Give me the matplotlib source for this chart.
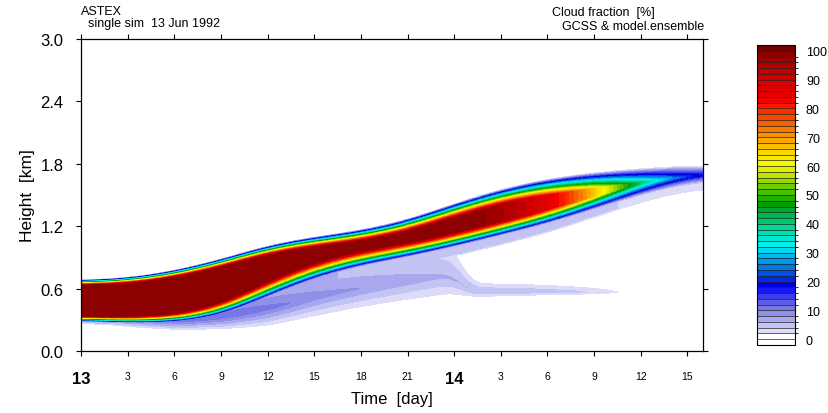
import numpy as np
import matplotlib
matplotlib.use("Agg")
import matplotlib.pyplot as plt
from matplotlib.colors import ListedColormap, BoundaryNorm

plt.rcParams['font.family'] = ['Liberation Sans', 'DejaVu Sans']

# time axis of the read-off profiles (hours since 13 Jun 00 UTC)
hours = [0, 3, 6, 9, 12, 15, 18, 21, 24, 27, 30, 33, 36, 39, 40]
# main cloud layer: outer top / bottom edges [km]
band_top = [0.68, 0.70, 0.77, 0.88, 1.02, 1.10, 1.16, 1.26, 1.42, 1.56, 1.66, 1.72, 1.76, 1.79, 1.79]
band_bot = [0.29, 0.27, 0.27, 0.33, 0.52, 0.70, 0.82, 0.90, 1.00, 1.11, 1.22, 1.36, 1.50, 1.60, 1.62]
# depth over which cloud fraction climbs from 0 to its peak [km]
ramp_top = [0.05, 0.06, 0.07, 0.08, 0.09, 0.10, 0.11, 0.12, 0.14, 0.15, 0.16, 0.16, 0.14, 0.12, 0.12]
ramp_bot = [0.05, 0.06, 0.08, 0.12, 0.16, 0.16, 0.15, 0.14, 0.14, 0.14, 0.14, 0.13, 0.12, 0.10, 0.10]
# peak cloud fraction inside the layer [%]
band_peak = [100, 100, 100, 100, 100, 100, 100, 100, 100, 98, 88, 68, 38, 24, 20]
# thin lavender skirt just under the layer
skirt_depth = [0.03, 0.04, 0.05, 0.08, 0.10, 0.10, 0.10, 0.10, 0.10, 0.10, 0.10, 0.09, 0.08, 0.07, 0.07]
skirt_val = [6, 6, 6, 7, 7, 6, 6, 5, 5, 5, 4, 4, 4, 4, 4]

# lower (drizzle / stratus) layer
drz_hours = [0, 3, 6, 9, 12, 15, 18, 21, 24, 24.8, 27, 30, 33, 35]
drz_bot = [0.26, 0.22, 0.19, 0.19, 0.21, 0.29, 0.37, 0.43, 0.48, 0.50, 0.51, 0.52, 0.53, 0.54]
drz_top = [0.45, 0.42, 0.46, 0.58, 0.78, 0.94, 1.04, 1.12, 1.20, 0.69, 0.68, 0.67, 0.64, 0.61]
drz_val = [7, 9, 11, 12, 11, 9, 8, 7, 6, 6, 6, 5, 4, 2]

xtick_hours = [0, 3, 6, 9, 12, 15, 18, 21, 24, 27, 30, 33, 36, 39]
xtick_labels = ['13', '3', '6', '9', '12', '15', '18', '21', '14', '3', '6', '9', '12', '15']
ytick_vals = [0.0, 0.6, 1.2, 1.8, 2.4, 3.0]
cbar_ticks = [0, 10, 20, 30, 40, 50, 60, 70, 80, 90, 100]

# one colour per 2 % box, 0..100
box_colors = [
    '#ffffff', '#dcdcfa', '#c4c4f4', '#a8a8ee', '#9090e8',
    '#7878e4', '#5c5ce4', '#3c3cec', '#1818f4', '#0000e8',
    '#0028e0', '#0050e0', '#0078e0', '#0098e8', '#00b8f0',
    '#00d8f0', '#00f0f0', '#00e8d0', '#00e0b0', '#00d890',
    '#00c870', '#00b850', '#00a830', '#00a000', '#20b000',
    '#48c000', '#70cc00', '#98d800', '#c0e400', '#e0f000',
    '#f8f800', '#f8e800', '#f8d800', '#f8c000', '#f8a800',
    '#f89000', '#f87800', '#f86000', '#f84800', '#f83000',
    '#f81800', '#f00000', '#e80000', '#e00000', '#d80000',
    '#d00000', '#c00000', '#b00000', '#a00000', '#8c0000',
]


def smooth(y, width):
    x = np.arange(-3 * width, 3 * width + 1)
    k = np.exp(-0.5 * (x / width) ** 2)
    k /= k.sum()
    return np.convolve(np.pad(y, 3 * width, mode='edge'), k, mode='valid')


def curve(t, xp, fp, width=15, right=None):
    y = np.interp(t, xp, fp, right=right)
    return smooth(y, width)


def cloud_field(t, z):
    T, Z = np.meshgrid(t, z)
    top = curve(t, hours, band_top)
    bot = curve(t, hours, band_bot)
    rt = curve(t, hours, ramp_top)
    rb = curve(t, hours, ramp_bot)
    pk = curve(t, hours, band_peak)
    band = pk * np.clip(np.minimum((Z - bot) / rb, (top - Z) / rt), 0, 1)

    sd = curve(t, hours, skirt_depth)
    sv = curve(t, hours, skirt_val)
    skirt = sv * np.clip((Z - (bot - sd)) / 0.03, 0, 1) * (Z <= bot + 0.05)

    db = curve(t, drz_hours, drz_bot, 6, right=0.54)
    dt = curve(t, drz_hours, drz_top, 6, right=0.61)
    dv = curve(t, drz_hours, drz_val, 10, right=0)
    zp = db + 0.35 * (dt - db)
    g = np.minimum((Z - db) / (zp - db), (dt - Z) / (dt - zp))
    drz = dv * np.clip(g, 0, 1) * (Z <= bot + 0.05)
    return np.maximum(np.maximum(band, skirt), drz)


def main():
    t = np.linspace(0, 40, 401)
    z = np.linspace(0, 3, 601)
    cf = cloud_field(t, z)

    fig = plt.figure(figsize=(8.29, 4.14), dpi=100)
    ax = fig.add_axes([0.0977, 0.1498, 0.7503, 0.7536])

    levels = np.arange(0, 101, 2)
    cmap = ListedColormap(box_colors)
    cmap.set_under('#ffffff')
    cmap.set_over('#700000')
    norm = BoundaryNorm(levels, cmap.N)
    cs = ax.contourf(t, z, cf, levels=levels, cmap=cmap, norm=norm, extend='both')

    ax.set_xlim(0, 40)
    ax.set_ylim(0, 3.0)
    ax.set_yticks(ytick_vals)
    ax.set_yticklabels(['%.1f' % v for v in ytick_vals], fontsize=12)
    ax.set_xticks(xtick_hours)
    ax.set_xticklabels(xtick_labels, fontsize=7.5)
    for lab in ax.get_xticklabels():
        if lab.get_text() in ('13', '14'):
            lab.set_fontsize(12)
            lab.set_fontweight('bold')
    ax.tick_params(axis='x', direction='out', top=True, length=3.5, width=0.8, pad=11)
    ax.tick_params(axis='y', direction='out', right=True, length=3.5, width=0.8, pad=9)
    for sp in ax.spines.values():
        sp.set_linewidth(0.9)

    fig.text(0.0326, 0.527, 'Height  [km]', rotation=90, ha='center', va='center', fontsize=12.5)
    fig.text(0.473, 0.034, 'Time  [day]', ha='center', va='center', fontsize=12)

    fig.text(0.0977, 0.972, 'ASTEX', ha='left', va='center', fontsize=9)
    fig.text(0.106, 0.941, 'single sim  13 Jun 1992', ha='left', va='center', fontsize=9)
    fig.text(0.666, 0.968, 'Cloud fraction  [%]', ha='left', va='center', fontsize=9)
    fig.text(0.678, 0.935, 'GCSS & model.ensemble', ha='left', va='center', fontsize=9)

    cax = fig.add_axes([0.913, 0.1643, 0.0458, 0.7246])
    cb = fig.colorbar(cs, cax=cax, ticks=cbar_ticks, drawedges=True,
                      extendrect=True, extendfrac=0.02)
    cb.ax.tick_params(length=0, pad=8, labelsize=9)
    cb.outline.set_linewidth(0.8)
    cb.dividers.set_linewidth(0.5)
    cb.dividers.set_color('#222222')

    fig.savefig('out.png', dpi=100)


if __name__ == "__main__":
    main()
